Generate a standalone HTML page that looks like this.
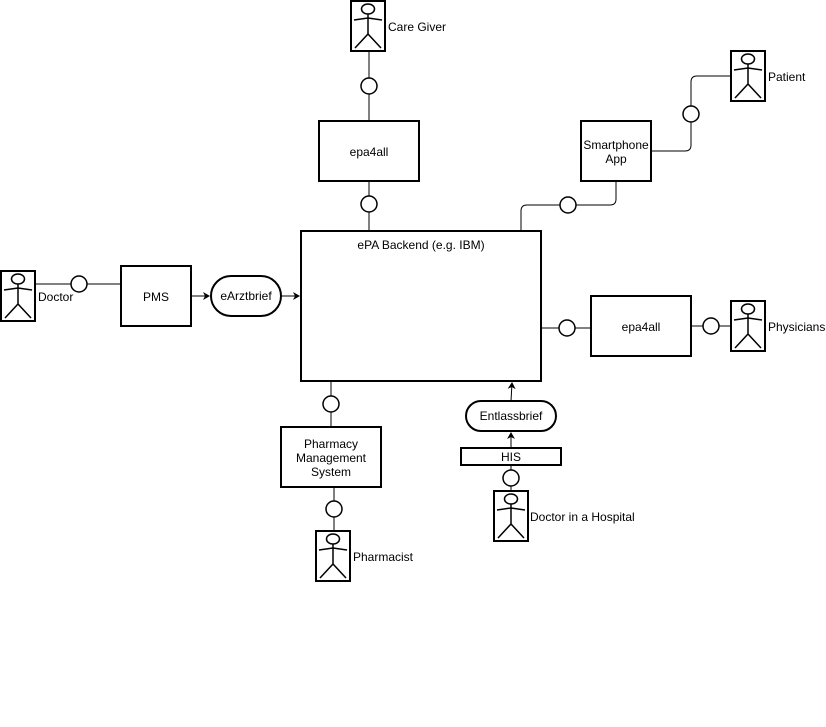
<!DOCTYPE html>
<html><head><meta charset="utf-8"><style>
html,body{margin:0;padding:0;background:#fff;}
svg{display:block;font-family:"Liberation Sans",Arial,sans-serif;font-size:12px;}
</style></head><body>
<svg width="826" height="727" viewBox="0 0 826 727" xmlns="http://www.w3.org/2000/svg">
<defs>
<g id="actor">
<rect x="0" y="0" width="34" height="50" fill="#fff" stroke="#000" stroke-width="2"/>
<ellipse cx="17" cy="8" rx="6.5" ry="5" fill="none" stroke="#000" stroke-width="1.5"/>
<path d="M3 19 L17 17 L31 19 M17 13 L17 33 M4 47 L17 33 L30 47" fill="none" stroke="#000" stroke-width="1.5"/>
</g>
<marker id="ar" markerWidth="8" markerHeight="8" refX="6" refY="4" orient="auto" markerUnits="userSpaceOnUse">
<path d="M0,0 L7,4 L0,8 L2,4 Z" fill="#000"/>
</marker>
</defs>
<g fill="none" stroke="#000" stroke-width="1">
<!-- care giver -->
<path d="M369 51V78 M369 94V121 M369 181V196 M369 212V231"/>
<!-- patient / smartphone -->
<path d="M731 76H697Q691 76 691 82V106 M691 122V145Q691 151 685 151H651"/>
<path d="M616 181V199Q616 205 610 205H576 M560 205H527Q521 205 521 211V231"/>
<!-- doctor -->
<path d="M35 284H71 M87 284H121"/>
<path d="M191 296H209" marker-end="url(#ar)"/>
<path d="M281 296H299" marker-end="url(#ar)"/>
<!-- physicians -->
<path d="M541 328H559 M575 328H591 M691 326H703 M719 326H731"/>
<!-- pharmacy -->
<path d="M331 381V396 M331 412V427 M334 487V501 M334 517V531"/>
<!-- hospital -->
<path d="M511 401L512 383" marker-end="url(#ar)"/>
<path d="M511 448V433" marker-end="url(#ar)"/>
<path d="M511 465V470 M511 486V491"/>
</g>
<g fill="#fff" stroke="#000" stroke-width="1.5">
<circle cx="369" cy="86" r="8"/><circle cx="369" cy="204" r="8"/>
<circle cx="691" cy="114" r="8"/><circle cx="568" cy="205" r="8"/>
<circle cx="79" cy="284" r="8"/><circle cx="567" cy="328" r="8"/>
<circle cx="711" cy="326" r="8"/><circle cx="331" cy="404" r="8"/>
<circle cx="334" cy="509" r="8"/><circle cx="511" cy="478" r="8"/>
</g>
<g fill="#fff" stroke="#000" stroke-width="2">
<rect x="319" y="121" width="100" height="60"/>
<rect x="581" y="121" width="70" height="60"/>
<rect x="301" y="231" width="240" height="150"/>
<rect x="121" y="266" width="70" height="60"/>
<rect x="211" y="276" width="70" height="40" rx="20"/>
<rect x="591" y="296" width="100" height="60"/>
<rect x="281" y="427" width="100" height="60"/>
<rect x="466" y="401" width="90" height="30" rx="15"/>
<rect x="461" y="448" width="100" height="17"/>
</g>
<use href="#actor" x="351" y="1"/>
<use href="#actor" x="731" y="51"/>
<use href="#actor" x="1" y="271"/>
<use href="#actor" x="731" y="301"/>
<use href="#actor" x="316" y="531"/>
<use href="#actor" x="494" y="491"/>
<g fill="#000">
<text x="388" y="31">Care Giver</text>
<text x="768" y="81">Patient</text>
<text x="38" y="301">Doctor</text>
<text x="768" y="331">Physicians</text>
<text x="353" y="561">Pharmacist</text>
<text x="530" y="521">Doctor in a Hospital</text>
<g text-anchor="middle">
<text x="369" y="156">epa4all</text>
<text x="616" y="149">Smartphone</text>
<text x="616" y="163">App</text>
<text x="421" y="249">ePA Backend (e.g. IBM)</text>
<text x="156" y="301">PMS</text>
<text x="246" y="300">eArztbrief</text>
<text x="641" y="331">epa4all</text>
<text x="331" y="448">Pharmacy</text>
<text x="331" y="462">Management</text>
<text x="331" y="476">System</text>
<text x="511" y="420">Entlassbrief</text>
<text x="511" y="461">HIS</text>
</g>
</g>
</svg>
</body></html>
